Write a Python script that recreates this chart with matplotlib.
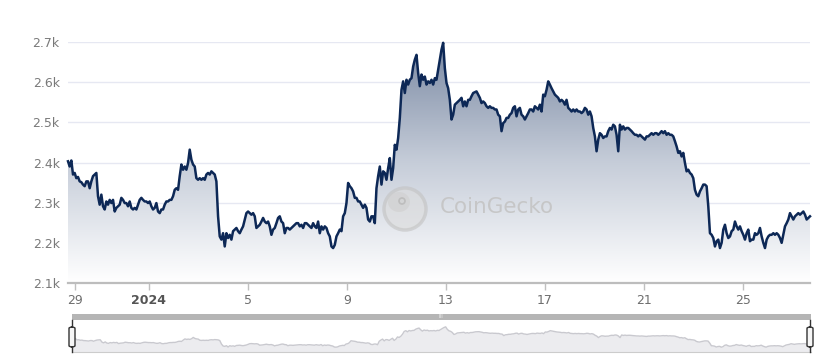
import numpy as np
import pandas as pd
import matplotlib
matplotlib.use("Agg")
import matplotlib.pyplot as plt
import matplotlib.dates as mdates
from matplotlib.colors import LinearSegmentedColormap
from matplotlib.patches import Ellipse, FancyBboxPatch, Rectangle

# price samples (USD), evenly spaced ~97 minutes apart
start_time = "2023-12-28 17:32"
step = "97min"
prices = [
    2403, 2390, 2405, 2370, 2374, 2361, 2364, 2353, 2351, 2345, 2341, 2353, 2353, 2336, 2353, 2366,
    2370, 2374, 2316, 2295, 2320, 2291, 2283, 2303, 2295, 2307, 2299, 2307, 2278, 2287, 2291, 2295,
    2312, 2307, 2299, 2299, 2291, 2303, 2287, 2283, 2287, 2283, 2295, 2307, 2312, 2307, 2303, 2303,
    2299, 2303, 2291, 2283, 2287, 2299, 2278, 2274, 2283, 2283, 2295, 2303, 2303, 2307, 2307, 2316,
    2332, 2336, 2332, 2366, 2395, 2382, 2390, 2382, 2399, 2432, 2407, 2395, 2390, 2361, 2357, 2361,
    2357, 2361, 2357, 2370, 2374, 2370, 2378, 2374, 2370, 2353, 2266, 2216, 2208, 2224, 2191, 2224,
    2212, 2220, 2208, 2229, 2233, 2237, 2229, 2224, 2233, 2241, 2258, 2274, 2278, 2274, 2270, 2274,
    2266, 2237, 2241, 2245, 2253, 2262, 2253, 2249, 2253, 2241, 2220, 2233, 2237, 2249, 2262, 2266,
    2253, 2249, 2224, 2237, 2237, 2233, 2237, 2241, 2245, 2249, 2249, 2241, 2245, 2237, 2249, 2249,
    2245, 2241, 2237, 2249, 2241, 2237, 2253, 2224, 2241, 2233, 2241, 2237, 2224, 2216, 2191, 2187,
    2195, 2216, 2224, 2233, 2229, 2266, 2274, 2299, 2349, 2341, 2336, 2328, 2312, 2312, 2303, 2303,
    2295, 2287, 2295, 2287, 2258, 2253, 2266, 2266, 2249, 2336, 2366, 2390, 2345, 2378, 2374, 2357,
    2386, 2411, 2357, 2386, 2444, 2432, 2461, 2511, 2581, 2602, 2573, 2606, 2594, 2606, 2610, 2639,
    2656, 2668, 2623,
    2590, 2619, 2606, 2614, 2594, 2602, 2598, 2606, 2594, 2610, 2606, 2631, 2656, 2681, 2698, 2635,
    2598, 2585, 2556, 2507, 2519, 2544, 2548, 2552, 2556, 2561, 2540, 2552, 2540, 2556, 2556, 2565,
    2573, 2575, 2577, 2569, 2561, 2548, 2552, 2548, 2540, 2536, 2540, 2536, 2536, 2532, 2532, 2519,
    2515, 2478, 2498, 2502, 2511, 2511, 2519, 2523, 2536, 2540, 2515, 2532, 2536, 2519, 2515, 2507,
    2515, 2523, 2532, 2532, 2527, 2540, 2536, 2532, 2544, 2527, 2569, 2565, 2581, 2602, 2594, 2585,
    2577, 2569, 2565, 2561, 2552, 2556, 2552, 2544, 2556, 2536, 2532, 2527, 2532, 2527, 2532, 2527,
    2527, 2523, 2527, 2536, 2532, 2519, 2527, 2515, 2486, 2465, 2428, 2457, 2473, 2469, 2461, 2465,
    2465, 2478, 2486, 2482, 2494, 2490, 2469, 2428, 2494, 2482, 2490, 2482, 2486, 2486, 2482, 2478,
    2473, 2469, 2469, 2465, 2469, 2465, 2461, 2457, 2465, 2465, 2469, 2473, 2469, 2473, 2473, 2469,
    2473, 2478, 2473, 2478, 2469, 2473, 2469, 2469, 2465, 2453, 2440, 2424, 2428, 2415, 2424, 2399,
    2378, 2382, 2374, 2370, 2361, 2332, 2320, 2316, 2328, 2336, 2345, 2345, 2341, 2291, 2224, 2220,
    2212, 2191, 2204, 2208, 2187, 2200, 2233, 2245, 2224, 2212, 2216, 2229, 2233, 2253, 2241, 2233,
    2241, 2229, 2220, 2208, 2224, 2233, 2204, 2208, 2208, 2224, 2220, 2224, 2237, 2216, 2200, 2187,
    2208, 2216, 2220, 2220, 2224, 2220, 2224, 2220, 2212, 2200, 2220, 2241, 2249, 2258, 2274, 2266,
    2258, 2266, 2270, 2274, 2270, 2274, 2278, 2270, 2258, 2262, 2266,
]

tick_dates = ["2023-12-29", "2024-01-01", "2024-01-05", "2024-01-09",
              "2024-01-13", "2024-01-17", "2024-01-21", "2024-01-25"]
tick_labels = ["29", "2024", "5", "9", "13", "17", "21", "25"]
y_ticks = [2100, 2200, 2300, 2400, 2500, 2600, 2700]
y_labels = ["2.1k", "2.2k", "2.3k", "2.4k", "2.5k", "2.6k", "2.7k"]

times = pd.date_range(start_time, periods=len(prices), freq=step)
x = mdates.date2num(times.to_pydatetime())
y = np.array(prices, dtype=float)

W, H = 833, 362
fig = plt.figure(figsize=(W / 100, H / 100), dpi=100)

def box(l, t, r, b):
    return [l / W, 1 - b / H, (r - l) / W, (b - t) / H]

# ---- main chart
ax = fig.add_axes(box(68, 42, 810, 283))
ax.set_xlim(x[0], x[-1])
ax.set_ylim(2100, 2700)

for v in y_ticks[1:]:
    ax.axhline(v, color="#e6e8f2", lw=1, zorder=0)

# gradient area under the line
poly = ax.fill_between(x, y, 2100, color="none", lw=0)
grad_cmap = LinearSegmentedColormap.from_list("g", ["#ffffff", "#c6cdd9", "#7a89a3"])
grad = np.linspace(1, 0, 256).reshape(-1, 1)
im = ax.imshow(grad, cmap=grad_cmap, aspect="auto", extent=[x[0], x[-1], 2100, 2700],
               origin="upper", zorder=1, vmin=0, vmax=1)
im.set_clip_path(poly.get_paths()[0], transform=ax.transData)

ax.plot(x, y, color="#0d2856", lw=1.8, zorder=3, clip_on=False, solid_joinstyle="round")

ax.set_yticks(y_ticks)
ax.set_yticklabels(y_labels)
ax.set_xticks(mdates.date2num(pd.to_datetime(tick_dates).to_pydatetime()))
ax.set_xticklabels(tick_labels)
ax.tick_params(axis="y", length=0, pad=6, labelsize=9, labelcolor="#7a7a7a")
ax.tick_params(axis="x", length=5, width=1, color="#c0c0c0", pad=3, labelsize=9,
               labelcolor="#6e6e6e")
for lab in ax.get_xticklabels():
    if lab.get_text() == "2024":
        lab.set_fontweight("bold")
        lab.set_color("#555555")
for s in ["top", "right", "left"]:
    ax.spines[s].set_visible(False)
ax.spines["bottom"].set_color("#bdbdbd")
ax.spines["bottom"].set_linewidth(1.6)
ax.spines["bottom"].set_zorder(4)

# watermark (logo ring + eye + word mark)
fig.patches.append(Ellipse((405 / W, 1 - 209 / H), 42 / W, 42 / H, transform=fig.transFigure,
                           facecolor="#dcdcdc", edgecolor="#c2c2c2", lw=2.5, alpha=0.6,
                           zorder=5))
fig.patches.append(Ellipse((399 / W, 1 - 202 / H), 22 / W, 20 / H, transform=fig.transFigure,
                           facecolor="#cfcfcf", edgecolor="none", alpha=0.6, zorder=5))
fig.patches.append(Ellipse((402 / W, 1 - 201 / H), 6 / W, 6 / H, transform=fig.transFigure,
                           facecolor="none", edgecolor="#bdbdbd", lw=1.2, zorder=6))
fig.text(440 / W, 1 - 207 / H, "CoinGecko", fontsize=15.5, color="#c4c4c4",
         va="center", ha="left", zorder=6, alpha=0.9)

# ---- navigator
nav = fig.add_axes(box(72, 320, 811, 352))
nav.set_xlim(x[0], x[-1])
nav.set_ylim(2066, 2870)
nav.fill_between(x, y, 2066, color="#ececef", lw=0)
nav.plot(x, y, color="#c9c9cf", lw=1)
nav.set_xticks([])
nav.set_yticks([])
for s in ["top", "right", "left"]:
    nav.spines[s].set_visible(False)
nav.spines["bottom"].set_color("#cccccc")

# scrollbar
fig.patches.append(Rectangle((72 / W, 1 - 320 / H), (811 - 72) / W, 6 / H,
                             transform=fig.transFigure, facecolor="#b5b5b5", lw=0))
fig.text(441 / W, 1 - 317 / H, "III", fontsize=4, color="#eeeeee", ha="center",
         va="center")

# handles
for hx in (72, 810):
    fig.lines.append(plt.Line2D([hx / W, hx / W], [1 - 320 / H, 1 - 352 / H],
                                transform=fig.transFigure, color="#333333", lw=1))
    fig.patches.append(FancyBboxPatch(((hx - 3) / W, 1 - 347 / H), 6 / W, 20 / H,
                                      boxstyle="round,pad=0,rounding_size=0.004",
                                      transform=fig.transFigure, facecolor="#f6f6f6",
                                      edgecolor="#333333", lw=1, zorder=5))

fig.savefig("out.png", dpi=100)
